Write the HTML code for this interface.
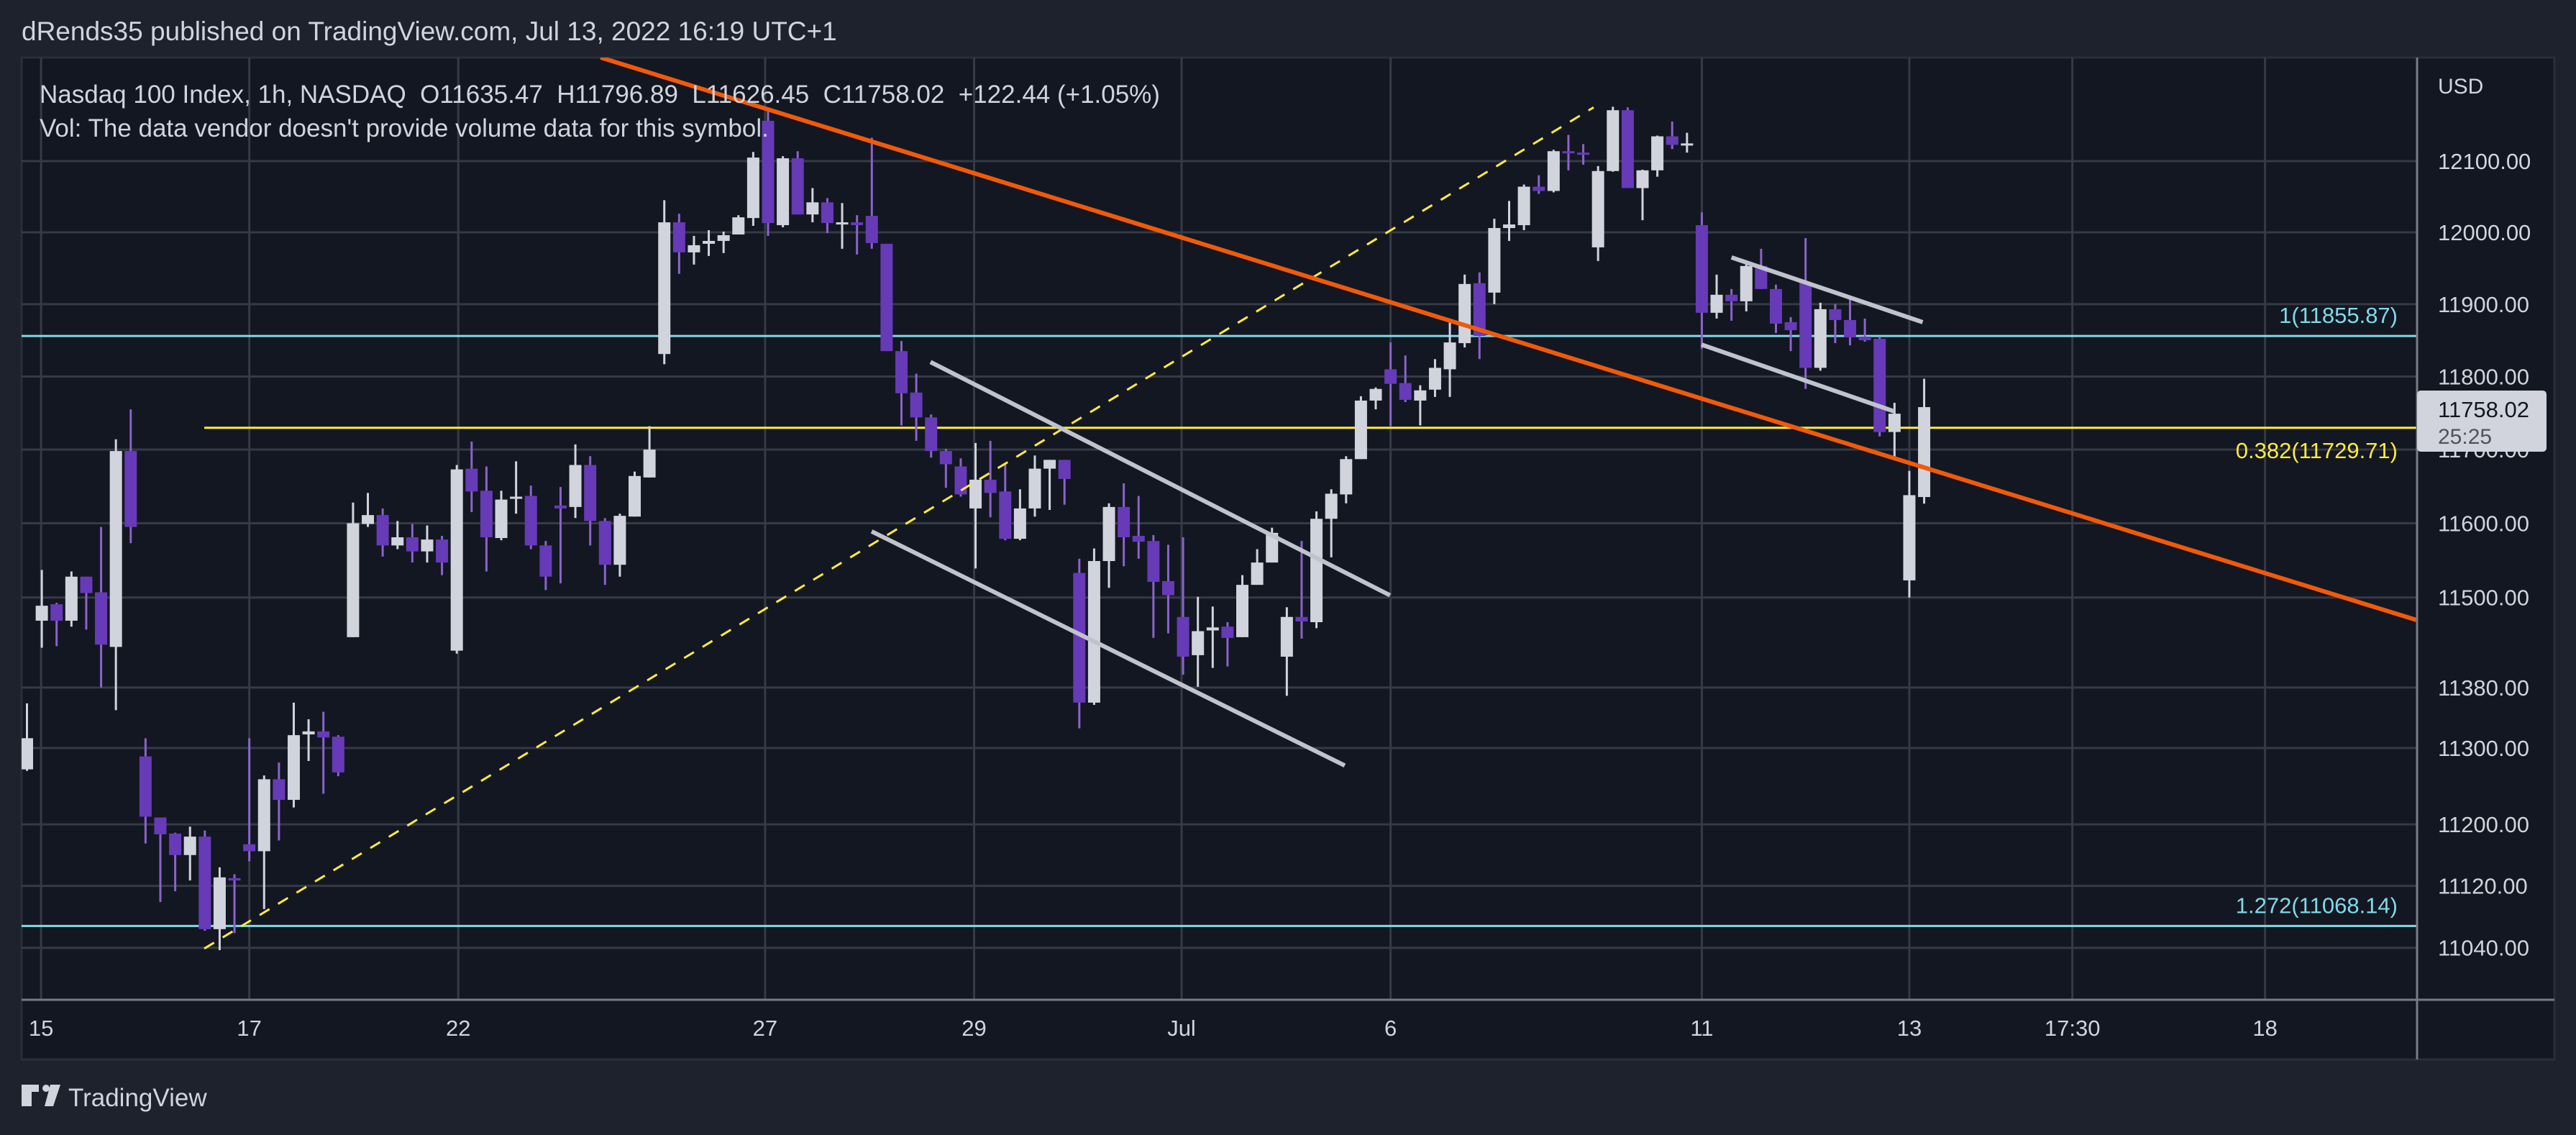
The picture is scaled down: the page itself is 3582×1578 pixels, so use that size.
<!DOCTYPE html>
<html><head><meta charset="utf-8">
<style>
html,body{margin:0;padding:0;background:#1e222d;}
body{width:3582px;height:1578px;position:relative;overflow:hidden;font-family:"Liberation Sans",sans-serif;}
.hdr{position:absolute;left:30px;top:23px;font-size:37px;color:#d1d4dc;}
svg{position:absolute;left:0;top:0;}
</style></head>
<body>
<div class="hdr">dRends35 published on TradingView.com, Jul 13, 2022 16:19 UTC+1</div>
<svg id="chart" width="3582" height="1578"></svg>
<script>
const priceTicks=[12100,12000,11900,11800,11700,11600,11500,11380,11300,11200,11120,11040];
const timeLabels=["15","17","22","27","29","Jul","6","11","13","17:30","18"];
const timeSlots=[0.95,15,29.1,49.8,63.9,77.9,92,113,127,138,151];
const opens=[11272,11469,11491,11469,11528,11507,11434,11698,11289,11209,11188,11160,11184,11064,11130,11174,11165,11259,11232,11318,11322,11315,11447,11599,11611,11570,11581,11562,11578,11429,11674,11644,11580,11633,11637,11570,11624,11622,11679,11603,11544,11609,11662,11831,12014,11972,11984,11988,11997,12020,12157,12010,12104,12025,12042,12013,12014,12023,11984,11835,11778,11744,11698,11677,11620,11659,11643,11579,11620,11674,11686,11533,11360,11549,11622,11583,11576,11522,11474,11423,11456,11461,11447,11517,11547,11421,11474,11467,11606,11639,11687,11767,11810,11791,11767,11782,11810,11846,11929,11916,12006,12010,12064,12058,12114,12112,11979,12086,12172,12062,12087,12135,12123,12010,11888,11913,11904,11953,11921,11875,11930,11812,11893,11878,11855,11852,11724,11523,11635.47];
const highs=[11359,11537,11493,11535,11528,11595,11714,11755,11313,11209,11189,11197,11192,11144,11135,11313,11264,11281,11360,11338,11348,11317,11628,11641,11620,11603,11599,11597,11583,11679,11711,11677,11644,11684,11651,11576,11649,11707,11691,11607,11613,11670,11732,12045,12026,11995,12003,12001,12024,12113,12174,12107,12114,12062,12048,12041,12024,12133,11984,11849,11804,11748,11701,11688,11709,11712,11682,11646,11692,11686,11686,11552,11566,11627,11654,11637,11584,11571,11581,11501,11488,11467,11530,11565,11594,11487,11576,11616,11646,11691,11773,11785,11847,11829,11788,11824,11877,11941,11944,12019,12044,12067,12080,12116,12137,12124,12093,12177,12176,12088,12136,12156,12140,12028,11941,11921,11956,11977,11927,11882,11992,11902,11900,11911,11880,11855,11764,11671,11796.89];
const lows=[11270,11433,11435,11461,11457,11380,11350,11573,11175,11099,11113,11127,11062,11037,11059,11152,11090,11179,11222,11283,11240,11263,11447,11595,11555,11565,11547,11547,11530,11425,11615,11535,11577,11613,11565,11510,11519,11607,11570,11517,11528,11609,11662,11817,11942,11955,11967,11971,11997,12009,11995,12007,12025,12014,11999,11977,11969,11977,11835,11733,11712,11689,11648,11636,11539,11608,11577,11577,11609,11618,11625,11326,11357,11513,11542,11552,11446,11452,11397,11381,11406,11408,11447,11517,11547,11369,11445,11459,11554,11627,11687,11755,11732,11765,11733,11772,11772,11840,11824,11900,11988,12003,12054,12056,12087,12095,11960,12085,12062,12017,12078,12117,12112,11838,11880,11877,11890,11921,11860,11835,11783,11808,11846,11843,11848,11718,11688,11500,11626.45];
const closes=[11313,11489,11469,11528,11506,11437,11698,11595,11210,11187,11160,11184,11064,11131,11127,11165,11259,11232,11317,11322,11314,11268,11600,11611,11570,11581,11562,11578,11547,11673,11643,11581,11632,11636,11570,11528,11620,11679,11603,11544,11610,11664,11700,12014,11972,11982,11988,11996,12021,12105,12013,12104,12025,12042,12013,12014,12010,11985,11835,11777,11744,11698,11680,11639,11659,11641,11579,11620,11674,11686,11660,11360,11549,11622,11581,11575,11521,11503,11421,11455,11460,11446,11517,11547,11587,11474,11468,11606,11640,11687,11767,11783,11790,11768,11781,11812,11847,11928,11856,12006,12011,12064,12058,12114,12112,12109,12086,12172,12062,12087,12135,12123,12125,11888,11913,11904,11953,11921,11873,11864,11812,11893,11878,11854,11850,11724,11749,11638,11758.02];
const fibLevels=[11855.87,11729.71,11068.14];
const fibLabels=["1(11855.87)","0.382(11729.71)","1.272(11068.14)"];
const trendSlots=[38.7,161.2];const trendPrices=[12247,11470];
const dashSlots=[11.96,105.7];const dashPrices=[11039,12176];
const chUpSlots=[60.96,91.96];const chUpPrices=[11820,11503];
const chLoSlots=[56.99,88.91];const chLoPrices=[11589,11277];
const smUpSlots=[115.0,127.9];const smUpPrices=[11965,11875];
const smLoSlots=[112.98,126.0];const smLoPrices=[11844,11752];
const lastPrice="11758.02", countdown="25:25";

const NS="http://www.w3.org/2000/svg";
const svg=document.getElementById('chart');
const L=30,R=3361,T=80,B=1390,FR=3552,FB=1473;
const X=i=>37.5+20.61*i;
const Y=p=>224+11930*Math.log(12100/p);
function mk(tag,attrs,parent){const e=document.createElementNS(NS,tag);for(const k in attrs)e.setAttribute(k,attrs[k]);(parent||svg).appendChild(e);return e;}

const frame=mk('rect',{x:L,y:T,width:FR-L,height:FB-T,fill:'#131722',stroke:'#2a2e39','stroke-width':3});


const defs=mk('defs',{});
const cp=mk('clipPath',{id:'plot'},defs);mk('rect',{x:L,y:T,width:R-L,height:B-T},cp);
const grid=mk('g',{'clip-path':'url(#plot)'});


priceTicks.forEach(p=>{mk('line',{x1:L,x2:R,y1:Y(p),y2:Y(p),stroke:'#363a45','stroke-width':3},grid);});
timeSlots.forEach(s=>{mk('line',{x1:X(s),x2:X(s),y1:T,y2:B,stroke:'#363a45','stroke-width':3},grid);});

const plot=mk('g',{'clip-path':'url(#plot)'});


const fibColors=['#7fdbe8','#ffeb3b','#7fdbe8'];
const fibStart=[L,X(11.96),L];
fibLevels.forEach((p,i)=>{
  const ln=mk('line',{x1:fibStart[i],x2:R,y1:Y(p),y2:Y(p),stroke:fibColors[i],'stroke-width':3},plot);
  
  
  const dy=i===1?42:-18;
  const t=mk('text',{x:3334,y:Y(p)+dy,fill:fibColors[i],'font-size':31,'text-anchor':'end','font-family':'Liberation Sans, sans-serif'},plot);
  t.textContent=fibLabels[i];
  
  
});
for(let i=0;i<opens.length;i++){
  const up=closes[i]>=opens[i];const col=up?'#d1d4dc':'#673ab7';
  const g=mk('g',{},plot);
  
  
  const x=X(i);
  mk('line',{x1:x,x2:x,y1:Y(highs[i]),y2:Y(lows[i]),stroke:up?'#d1d4dc':'#8a63cc','stroke-width':3},g);
  const yt=Y(Math.max(opens[i],closes[i])),yb=Y(Math.min(opens[i],closes[i]));
  mk('rect',{x:x-8.5,y:yt,width:17,height:Math.max(3,yb-yt),fill:col},g);
}
function seg(sl,pr,stroke,w,name,dash){
  const a={x1:X(sl[0]),y1:Y(pr[0]),x2:X(sl[1]),y2:Y(pr[1]),stroke:stroke,'stroke-width':w};
  if(dash)a['stroke-dasharray']=dash;
  const e=mk('line',a,plot);
  
  
}
seg(dashSlots,dashPrices,'#ffeb3b',3,'dashed-trendline','16 14');
seg(chUpSlots,chUpPrices,'#c0c3cc',6,'channel-upper-line');
seg(chLoSlots,chLoPrices,'#c0c3cc',6,'channel-lower-line');
seg(smUpSlots,smUpPrices,'#c0c3cc',6,'flag-upper-line');
seg(smLoSlots,smLoPrices,'#c0c3cc',6,'flag-lower-line');
seg(trendSlots,trendPrices,'#f05a0a',6,'descending-trendline');

const ax=mk('g',{});


mk('line',{x1:R,x2:R,y1:T,y2:FB,stroke:'#787b86','stroke-width':3},ax);
mk('line',{x1:L,x2:FR,y1:B,y2:B,stroke:'#787b86','stroke-width':3},ax);
const usd=mk('text',{x:3390,y:130,fill:'#d1d4dc','font-size':30},ax);usd.textContent='USD';


priceTicks.forEach(p=>{
  const t=mk('text',{x:3390,y:Y(p)+11,fill:'#d1d4dc','font-size':31},ax);
  t.textContent=p.toFixed(2);
  
  
});
timeLabels.forEach((lab,i)=>{
  const t=mk('text',{x:X(timeSlots[i]),y:1440,fill:'#d1d4dc','font-size':31,'text-anchor':'middle'},ax);
  t.textContent=lab;
  
  
});
const bx=mk('g',{});


mk('rect',{x:R,y:543,width:180,height:85,rx:5,fill:'#d1d4dc'},bx);
const t1=mk('text',{x:3390,y:580,fill:'#131722','font-size':31},bx);t1.textContent=lastPrice;
const t2=mk('text',{x:3390,y:617,fill:'#50535e','font-size':30},bx);t2.textContent=countdown;

const lg=mk('text',{x:55,y:143,fill:'#d1d4dc','font-size':35},svg);
lg.textContent='Nasdaq 100 Index, 1h, NASDAQ  O11635.47  H11796.89  L11626.45  C11758.02  +122.44 (+1.05%)';
lg.setAttribute('xml:space','preserve');lg.style.whiteSpace='pre';


const vl=mk('text',{x:55,y:190,fill:'#d1d4dc','font-size':35},svg);
vl.textContent="Vol: The data vendor doesn't provide volume data for this symbol.";


const lo=mk('g',{});


mk('rect',{x:30,y:1508,width:14,height:30,fill:'#d1d4dc'},lo);
mk('rect',{x:30,y:1508,width:24,height:10,fill:'#d1d4dc'},lo);
mk('circle',{cx:64,cy:1513,r:5,fill:'#d1d4dc'},lo);
mk('path',{d:'M70 1508 L84 1508 L74 1538 L62 1538 Z',fill:'#d1d4dc'},lo);
const lt=mk('text',{x:95,y:1538,fill:'#d1d4dc','font-size':35},lo);lt.textContent='TradingView';
</script>
</body></html>
